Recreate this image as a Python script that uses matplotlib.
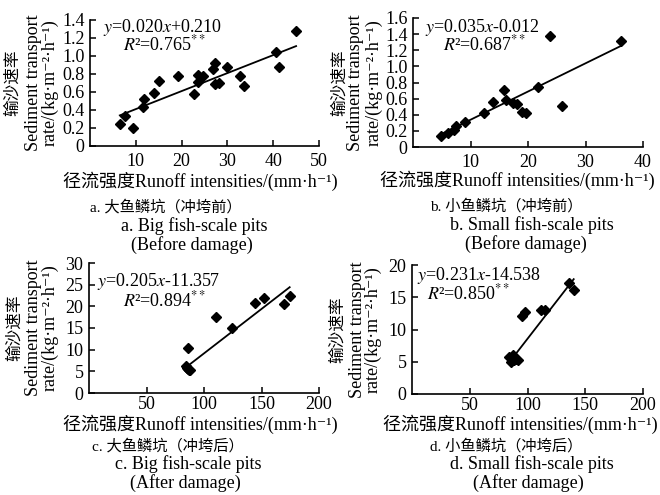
import matplotlib
matplotlib.use("Agg")
import matplotlib.pyplot as plt
import numpy as np

plt.rcParams['font.family'] = ['Liberation Serif', 'Noto Sans CJK SC', 'DejaVu Serif']
plt.rcParams['mathtext.fontset'] = 'stix'

# a. big fish-scale pits, before damage
a_x = [6.5, 7.7, 9.3, 11.6, 11.7, 14.0, 15.1, 19.3, 22.6, 23.5, 23.6, 24.6,
       26.9, 27.4, 27.4, 28.2, 29.9, 32.8, 33.6, 40.7, 41.2, 45.0]
a_y = [0.246, 0.332, 0.20, 0.429, 0.525, 0.586, 0.719, 0.776, 0.576, 0.794, 0.715, 0.78,
       0.852, 0.923, 0.694, 0.701, 0.88, 0.78, 0.672, 1.049, 0.88, 1.275]
# b. small fish-scale pits, before damage
b_x = [4.9, 6.1, 7.1, 7.4, 9.1, 12.3, 13.9, 15.9, 16.2, 17.4, 18.0, 18.9, 19.6,
       21.7, 23.8, 25.9, 36.1]
b_y = [0.133, 0.175, 0.208, 0.262, 0.308, 0.416, 0.553, 0.711, 0.586, 0.54, 0.536,
       0.428, 0.416, 0.74, 1.38, 0.511, 1.313]
# c. big fish-scale pits, after damage
c_x = [84, 85, 86, 87, 88, 85.7, 110.2, 124.6, 144.5, 152, 169.3, 174.5]
c_y = [6.2, 5.8, 5.5, 5.3, 5.4, 10.3, 17.6, 15.1, 20.7, 22.0, 20.5, 22.5]
# d. small fish-scale pits, after damage
d_x = [84, 86, 88, 90.3, 91.7, 87.4, 95.5, 98, 111.3, 115, 135.6, 140]
d_y = [5.7, 4.9, 5.3, 5.5, 5.3, 6.0, 12.1, 12.7, 13.1, 13.1, 17.2, 16.1]

fits = [(0.020, 0.210, 0.765), (0.035, -0.012, 0.687),
        (0.205, -11.357, 0.894), (0.231, -14.538, 0.850)]
xticks = [[10, 20, 30, 40, 50], [10, 20, 30, 40], [50, 100, 150, 200], [50, 100, 150, 200]]
xlims = [(0, 50), (0, 40), (0, 200), (0, 200)]
yticks = [[0, 0.2, 0.4, 0.6, 0.8, 1.0, 1.2, 1.4],
          [0, 0.2, 0.4, 0.6, 0.8, 1.0, 1.2, 1.4, 1.6],
          [0, 5, 10, 15, 20, 25, 30], [0, 5, 10, 15, 20]]
ytick_labels = [['0', '0.2', '0.4', '0.6', '0.8', '1.0', '1.2', '1.4'],
                ['0', '0.2', '0.4', '0.6', '0.8', '1.0', '1.2', '1.4', '1.6'],
                ['0', '5', '10', '15', '20', '25', '30'], ['0', '5', '10', '15', '20']]
cap_cn = ['a. 大鱼鳞坑（冲垮前）', 'b. 小鱼鳞坑（冲垮前）',
          'c. 大鱼鳞坑（冲垮后）', 'd. 小鱼鳞坑（冲垮后）']
cap_en = ['a. Big fish-scale pits', 'b. Small fish-scale pits',
          'c. Big fish-scale pits', 'd. Small fish-scale pits']
cap_state = ['(Before damage)', '(Before damage)', '(After damage)', '(After damage)']
xlabel = '径流强度Runoff intensities/(mm·h⁻¹)'
ylabel = ['输沙速率', 'Sediment transport', 'rate/(kg·m⁻²·h⁻¹)']

W, H = 660, 495
fig = plt.figure(figsize=(6.6, 4.95), dpi=100)


def P(x, y):
    return x / W, 1 - y / H


# axes boxes in pixels: left, right, top, bottom
boxes = [(90, 319, 20, 146), (413, 643, 18, 147), (89, 319, 263, 393), (412, 643, 265, 394)]
data = [(a_x, a_y), (b_x, b_y), (c_x, c_y), (d_x, d_y)]
# text anchors (pixels)
ylab_x = [(13, 33, 50), (340, 356, 374), (15, 33, 50), (338, 357, 373)]
xlab_pos = [(200, 181), (517, 180), (200, 424), (520, 424)]
cap_pos = [((166, 207), (194, 226), (192, 245)),
           ((506, 206), (532, 225), (526, 244)),
           ((168, 446), (188, 464), (185, 483)),
           ((506, 446), (532, 464), (528, 483))]
eq_pos = [((103, 27), (123, 44)), ((425, 27), (443, 44)),
          ((97, 282), (123, 300)), ((417, 276), (427, 293))]

for i in range(4):
    l, r, t, b = boxes[i]
    x0, y0 = P(l, b)
    ax = fig.add_axes([x0, y0, (r - l) / W, (b - t) / H])
    xs, ys = data[i]
    k, c, r2 = fits[i]
    ax.plot(xs, ys, 'D', color='black', ms=5, mec='black')
    lx = np.array([min(xs), max(xs)])
    ax.plot(lx, k * lx + c, color='black', lw=1.3)
    ax.set_xlim(*xlims[i])
    ax.set_ylim(yticks[i][0], yticks[i][-1])
    ax.set_xticks(xticks[i])
    ax.set_yticks(yticks[i])
    ax.set_yticklabels(ytick_labels[i])
    for s in ['top', 'right']:
        ax.spines[s].set_visible(False)
    for s in ['left', 'bottom']:
        ax.spines[s].set_linewidth(1.2)
    ax.tick_params(direction='in', length=4, width=1.1, labelsize=13)
    ax.tick_params(axis='x', pad=5 if i < 2 else 2)
    ax.tick_params(axis='y', pad=4)

    cy = (t + b) / 2
    x1, x2, x3 = ylab_x[i]
    fig.text(*P(x1, cy), ylabel[0], rotation=90, ha='center', va='center', fontsize=12)
    fig.text(*P(x2, cy), ylabel[1], rotation=90, ha='center', va='center', fontsize=13)
    fig.text(*P(x3, cy), ylabel[2], rotation=90, ha='center', va='center', fontsize=13)

    fig.text(*P(*xlab_pos[i]), xlabel, ha='center', va='center', fontsize=13)
    p1, p2, p3 = cap_pos[i]
    fig.text(*P(*p1), cap_cn[i], ha='center', va='center', fontsize=11)
    fig.text(*P(*p2), cap_en[i], ha='center', va='center', fontsize=13)
    fig.text(*P(*p3), cap_state[i], ha='center', va='center', fontsize=13)

    sign = '+' if c >= 0 else '-'
    eq = r'$y$=%.3f$x$%s%.3f' % (k, sign, abs(c))
    fig.text(*P(*eq_pos[i][0]), eq, ha='left', va='center', fontsize=13)
    fig.text(*P(*eq_pos[i][1]), r'$R$²=%.3f$^{**}$' % r2, ha='left', va='center', fontsize=13)

fig.savefig('out.png', dpi=100)
